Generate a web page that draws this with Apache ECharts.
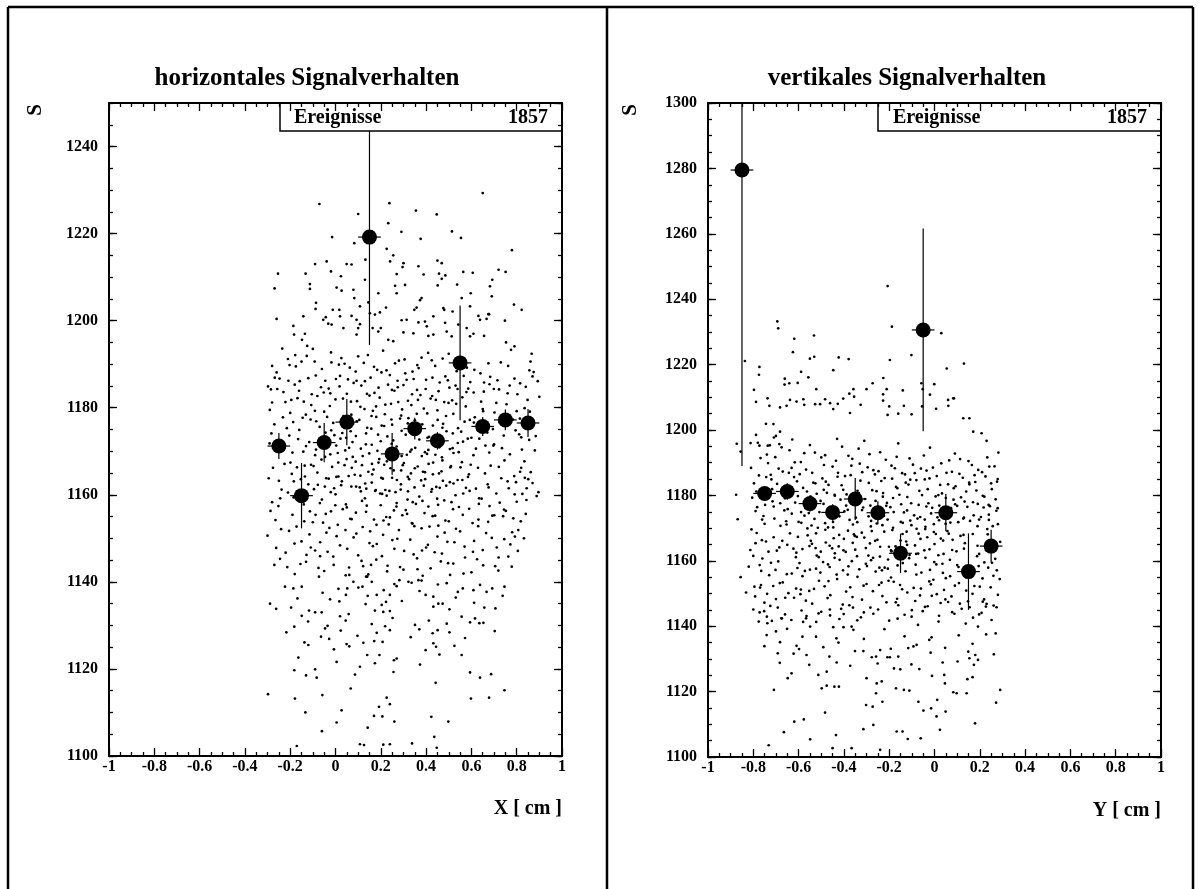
<!DOCTYPE html>
<html>
<head>
<meta charset="utf-8">
<script src="https://cdn.jsdelivr.net/npm/echarts@6/dist/echarts.min.js"></script>
<style>html,body{margin:0;padding:0;background:#fff;}#c{width:1201px;height:889px;}</style>
</head>
<body>
<div id="c"></div>
<script>
// ---------- DATA ----------
const leftTitle = 'horizontales Signalverhalten';
const rightTitle = 'vertikales Signalverhalten';
const leftAxisName = 'X [ cm ]';
const rightAxisName = 'Y [ cm ]';
const yName = 'S';
const statLabel = 'Ereignisse';
const statValue = '1857';
const binHalfWidth = 0.05;

// profile (mean S per bin) with errors
const leftBinX  = [-0.25,-0.15,-0.05,0.05,0.15,0.25,0.35,0.45,0.55,0.65,0.75,0.85];
const leftMean  = [1171.2,1159.8,1172.0,1176.7,1219.2,1169.4,1175.2,1172.4,1190.3,1175.7,1177.2,1176.5];
const leftErr   = [3.0,7.5,4.5,5.3,24.8,4.8,2.5,2.0,13.2,2.2,2.4,3.2];
const rightBinX = [-0.85,-0.75,-0.65,-0.55,-0.45,-0.35,-0.25,-0.15,-0.05,0.05,0.15,0.25];
const rightMean = [1279.5,1180.6,1181.2,1177.5,1174.8,1178.9,1174.7,1162.3,1230.6,1174.7,1156.7,1164.5];
const rightErr  = [90.5,2.0,2.5,2.5,2.5,6.4,3.5,6.0,31.0,5.7,11.7,5.0];

// individual events (scatter)
const leftEventsUpper = [[-0.071,1226.8],[0.238,1227.0],[0.65,1229.3],[0.10,1224.5],[0.233,1222.4],[0.355,1225.3],[0.447,1224.4],[-0.015,1219.2],[0.291,1220.4],[0.376,1218.8],[0.514,1220.5],[0.554,1219.0],[0.779,1216.2],[0.083,1217.8],[0.226,1216.5],[0.255,1215.0],[-0.254,1210.8],[-0.132,1210.8],[-0.09,1213.0],[-0.039,1213.6],[0.049,1213.0],[-0.02,1211.3],[0.024,1210.2],[0.071,1212.9],[0.132,1214.0],[0.241,1213.6],[0.30,1213.2],[0.296,1212.3],[0.27,1210.7],[0.366,1212.5],[0.389,1210.6],[0.45,1213.8],[0.469,1213.2],[0.457,1210.8],[0.485,1210.4],[0.564,1211.2],[0.606,1211.0],[0.692,1209.4],[0.72,1211.7],[0.751,1211.2],[-0.269,1207.4],[-0.113,1208.4],[-0.113,1207.3],[0.005,1207.6],[0.027,1206.9],[0.079,1207.1],[0.13,1209.4],[0.263,1208.0],[0.307,1208.2],[0.27,1206.3],[0.38,1205.2],[0.373,1204.7],[0.451,1208.1],[0.469,1209.6],[0.537,1208.3],[0.557,1205.2],[0.597,1206.3],[0.682,1207.9],[0.69,1205.6],[-0.086,1204.1],[-0.088,1202.7],[-0.012,1202.5],[0.017,1202.5],[0.083,1205.2],[0.108,1203.3],[0.145,1204.2],[0.189,1206.3],[0.223,1203.0],[0.348,1202.5],[0.358,1203.0],[0.476,1202.9],[0.48,1202.5],[0.517,1202.1],[0.594,1203.3],[0.638,1200.2],[0.675,1201.5],[0.788,1203.7],[0.822,1202.5],[-0.26,1200.4],[-0.186,1198.8],[-0.142,1201.0],[-0.135,1197.0],[-0.183,1196.8],[-0.148,1195.6],[-0.054,1200.2],[-0.043,1200.8],[-0.017,1199.1],[0.02,1201.0],[0.035,1198.3],[-0.032,1199.3],[0.071,1201.1],[0.093,1200.2],[0.108,1199.2],[0.10,1198.3],[0.093,1196.8],[0.152,1201.7],[0.174,1201.4],[0.196,1201.9],[0.164,1198.3],[0.189,1197.5],[0.20,1198.3],[0.233,1195.6],[0.255,1195.3],[0.292,1200.1],[0.314,1200.2],[0.30,1197.3],[0.344,1197.1],[0.366,1199.6],[0.395,1199.8],[0.403,1198.7],[0.432,1201.0],[0.41,1196.5],[0.432,1196.8],[0.484,1199.5],[0.491,1197.5],[0.513,1196.4],[0.542,1199.1],[0.579,1198.3],[0.594,1196.4],[0.609,1197.0],[0.631,1201.1],[0.656,1196.5],[0.678,1201.5],[0.667,1200.4],[0.748,1200.0],[0.753,1195.0],[0.79,1194.1],[0.866,1192.4],[0.856,1188.6],[0.87,1187.2],[-0.28,1189.6],[-0.298,1184.9],[-0.257,1184.3],[-0.28,1181.2]];

const leftEventsCore = [[-0.29,1179.5],[-0.27,1176.2],[-0.26,1188.1],[-0.24,1172.4],[-0.23,1183.6],[-0.21,1191.2],[-0.2,1178.8],[-0.19,1169.7],[-0.18,1185.3],[-0.16,1174.9],[-0.15,1190.6],[-0.14,1181.4],[-0.13,1171.2],[-0.12,1186.8],[-0.11,1177.3],[-0.1,1193.5],[-0.09,1169.1],[-0.08,1182.7],[-0.07,1175.6],[-0.06,1188.9],[-0.05,1179.1],[-0.04,1171.8],[-0.03,1184.4],[-0.02,1192.7],[-0.01,1176.5],[0.0,1181.9],[0.01,1169.6],[0.02,1187.3],[0.03,1174.2],[0.04,1190.1],[0.05,1183.2],[0.06,1170.8],[0.07,1178.4],[0.08,1185.7],[0.09,1173.5],[0.1,1191.8],[0.11,1180.2],[0.12,1168.9],[0.13,1186.1],[0.14,1175.4],[0.15,1182.8],[0.16,1171.5],[0.17,1189.4],[0.18,1177.9],[0.19,1184.6],[0.2,1172.3],[0.21,1193.1],[0.22,1180.7],[0.23,1169.4],[0.24,1187.5],[0.25,1176.1],[0.26,1183.9],[0.27,1171.1],[0.28,1190.8],[0.29,1178.2],[0.3,1185.2],[0.31,1173.8],[0.32,1181.6],[0.33,1169.9],[0.34,1188.3],[0.35,1177.1],[0.36,1184.1],[0.37,1172.7],[0.38,1191.5],[0.39,1179.8],[0.4,1186.4],[0.41,1170.3],[0.42,1182.1],[0.43,1175.9],[0.44,1189.6],[0.45,1179.4],[0.46,1185.8],[0.47,1168.6],[0.48,1181.3],[0.49,1174.6],[0.5,1192.4],[0.52,1178.6],[0.53,1185.1],[0.54,1171.9],[0.56,1182.4],[0.57,1176.8],[0.58,1189.2],[0.6,1173.1],[0.61,1183.5],[0.62,1170.6],[0.64,1187.9],[0.65,1179.7],[0.67,1174.3],[0.68,1185.4],[0.7,1171.6],[0.71,1181.1],[0.73,1190.4],[0.74,1176.4],[0.76,1183.3],[0.77,1169.3],[0.79,1186.7],[0.8,1179.2],[0.82,1173.2],[0.84,1184.8],[0.86,1177.6],[0.88,1170.2],[0.9,1182.5],
[-0.285,1184.2],[-0.255,1170.9],[-0.235,1193.6],[-0.215,1175.3],[-0.195,1181.8],[-0.175,1189.5],[-0.165,1172.8],[-0.145,1177.7],[-0.125,1194.2],[-0.105,1183.1],[-0.085,1176.9],[-0.065,1171.4],[-0.045,1186.2],[-0.025,1180.4],[-0.005,1173.7],[0.015,1189.9],[0.035,1178.1],[0.055,1186.5],[0.075,1172.1],[0.095,1181.5],[0.105,1177.2],[0.125,1190.3],[0.135,1174.1],[0.155,1186.9],[0.165,1179.3],[0.185,1170.1],[0.195,1182.3],[0.215,1175.8],[0.225,1188.6],[0.245,1180.9],[0.255,1172.5],[0.275,1184.7],[0.285,1177.5],[0.305,1191.1],[0.315,1169.2],[0.335,1180.6],[0.345,1186.6],[0.365,1174.4],[0.375,1182.9],[0.395,1169.8],[0.405,1178.7],[0.425,1190.9],[0.435,1173.4],[0.455,1183.8],[0.475,1176.3],[0.485,1187.2],[0.505,1170.5],[0.515,1181.7],[0.535,1188.4],[0.555,1174.5],[0.575,1180.3],[0.595,1185.9],[0.615,1177.8],[0.635,1172.9],[0.655,1183.7],[0.675,1190.2],[0.695,1175.1],[0.715,1186.3],[0.735,1170.7],[0.755,1180.8],[0.775,1193.3],[0.795,1174.8],[0.815,1185.6],[0.835,1179.9],[0.855,1172.6],[0.875,1188.2],
[-0.283,1174.1],[-0.247,1186.7],[-0.228,1170.3],[-0.203,1189.8],[-0.187,1176.7],[-0.168,1182.2],[-0.142,1169.9],[-0.127,1191.9],[-0.107,1180.6],[-0.087,1187.4],[-0.072,1172.6],[-0.052,1183.5],[-0.037,1177.9],[-0.018,1190.4],[0.003,1171.3],[0.018,1184.9],[0.033,1182.1],[0.047,1173.1],[0.063,1189.2],[0.078,1176.3],[0.093,1186.2],[0.112,1170.6],[0.128,1179.7],[0.143,1192.1],[0.158,1175.2],[0.172,1183.4],[0.188,1173.8],[0.203,1188.1],[0.218,1178.5],[0.232,1185.3],[0.248,1171.7],[0.263,1190.2],[0.277,1181.3],[0.292,1174.7],[0.308,1187.9],[0.322,1177.6],[0.338,1183.1],[0.352,1170.8],[0.367,1189.1],[0.383,1176.2],[0.398,1184.3],[0.413,1173.3],[0.428,1186.9],[0.443,1181.8],[0.458,1170.9],[0.473,1191.3],[0.488,1178.1],[0.503,1184.6],[0.518,1174.1],[0.533,1180.9],[0.548,1189.7],[0.563,1172.2],[0.578,1183.6],[0.593,1177.2],[0.613,1188.7],[0.628,1174.8],[0.643,1181.4],[0.662,1171.3],[0.683,1187.1],[0.702,1178.9],[0.722,1184.2],[0.743,1173.6],[0.762,1189.6],[0.783,1177.3],[0.803,1183.1],[0.823,1170.4],[0.848,1181.8],[0.872,1176.1],[0.893,1186.1],
[-0.3,1150.6],[-0.28,1158.3],[-0.27,1143.9],[-0.25,1163.2],[-0.24,1152.1],[-0.22,1146.7],[-0.21,1160.5],[-0.19,1155.4],[-0.18,1141.8],[-0.17,1166.3],[-0.15,1149.3],[-0.14,1157.8],[-0.13,1144.6],[-0.12,1162.4],[-0.1,1153.7],[-0.09,1147.2],[-0.08,1165.1],[-0.06,1158.9],[-0.05,1142.5],[-0.04,1151.3],[-0.03,1163.7],[-0.02,1156.2],[-0.01,1145.8],[0.0,1160.1],[0.01,1153.1],[0.02,1148.4],[0.04,1166.8],[0.05,1157.1],[0.06,1143.3],[0.07,1161.9],[0.08,1150.2],[0.09,1155.9],[0.1,1146.1],[0.11,1164.4],[0.12,1152.6],[0.13,1159.2],[0.14,1141.2],[0.15,1148.9],[0.16,1162.8],[0.17,1154.3],[0.18,1145.1],[0.19,1167.4],[0.2,1157.6],[0.21,1150.8],[0.22,1161.1],[0.23,1143.7],[0.24,1154.8],[0.25,1163.9],[0.26,1147.6],[0.27,1158.1],[0.28,1151.9],[0.29,1165.6],[0.3,1142.8],[0.31,1156.5],[0.32,1160.8],[0.33,1149.7],[0.34,1153.4],[0.35,1166.1],[0.36,1145.4],[0.37,1159.6],[0.38,1152.3],[0.39,1162.1],[0.4,1147.9],[0.41,1157.3],[0.42,1143.1],[0.43,1164.7],[0.44,1155.2],[0.45,1150.4],[0.46,1161.6],[0.47,1146.5],[0.48,1158.7],[0.5,1153.9],[0.51,1166.6],[0.52,1144.2],[0.53,1159.9],[0.55,1151.6],[0.56,1163.4],[0.57,1148.1],[0.59,1156.8],[0.6,1142.2],[0.62,1161.4],[0.63,1152.8],[0.65,1147.3],[0.66,1164.9],[0.68,1157.4],[0.69,1150.1],[0.71,1160.3],[0.72,1145.6],[0.74,1155.1],[0.76,1163.1],[0.78,1151.4],[0.8,1158.4],[0.82,1166.2],[0.84,1155.6],[0.87,1162.7],
[-0.295,1163.8],[-0.265,1154.2],[-0.245,1145.3],[-0.225,1167.1],[-0.205,1151.7],[-0.185,1159.4],[-0.155,1144.1],[-0.135,1164.2],[-0.115,1150.9],[-0.095,1161.3],[-0.075,1143.2],[-0.055,1153.6],[-0.035,1146.9],[-0.015,1166.4],[0.005,1150.5],[0.025,1162.2],[0.045,1141.5],[0.065,1154.5],[0.085,1164.6],[0.115,1144.8],[0.135,1156.1],[0.145,1165.3],[0.165,1148.2],[0.175,1160.9],[0.205,1145.9],[0.215,1166.9],[0.235,1153.2],[0.265,1160.6],[0.285,1143.4],[0.295,1155.3],[0.325,1163.6],[0.345,1146.3],[0.355,1157.9],[0.385,1141.4],[0.395,1165.2],[0.415,1152.7],[0.445,1161.8],[0.465,1144.7],[0.485,1154.1],[0.505,1162.9],[0.525,1149.1],[0.545,1157.2],[0.565,1141.9],[0.585,1164.1],[0.605,1153.5],[0.625,1145.2],[0.645,1159.1],[0.665,1151.2],[0.685,1166.7],[0.705,1143.6],[0.725,1158.2],[0.745,1149.8],[0.765,1161.5],[0.785,1154.6],[0.805,1147.1],[0.825,1160.2],
[-0.287,1156.3],[-0.262,1147.8],[-0.238,1161.2],[-0.213,1143.4],[-0.193,1164.8],[-0.172,1152.7],[-0.147,1160.1],[-0.128,1146.2],[-0.108,1166.9],[-0.088,1155.4],[-0.068,1149.1],[-0.047,1161.9],[-0.027,1152.4],[-0.008,1143.9],[0.013,1164.2],[0.032,1156.7],[0.052,1147.6],[0.072,1166.2],[0.092,1151.1],[0.107,1161.7],[0.122,1143.6],[0.138,1157.5],[0.153,1151.6],[0.168,1165.8],[0.182,1148.7],[0.197,1160.3],[0.212,1154.1],[0.228,1142.4],[0.243,1166.1],[0.258,1156.4],[0.273,1149.9],[0.288,1161.2],[0.303,1147.1],[0.318,1158.9],[0.333,1164.9],[0.348,1152.8],[0.362,1142.9],[0.378,1163.3],[0.393,1155.8],[0.408,1148.5],[0.423,1160.7],[0.438,1146.8],[0.453,1157.7],[0.468,1165.4],[0.482,1151.3],[0.497,1144.3],[0.512,1158.3],[0.532,1152.2],[0.552,1166.3],[0.572,1145.6],[0.592,1160.9],[0.612,1149.4],[0.633,1157.9],[0.652,1143.8],[0.672,1162.4],[0.692,1155.2],[0.712,1147.9],[0.732,1163.8],[0.752,1156.3],[0.772,1148.6],[0.797,1162.9],[0.818,1153.9],[0.843,1158.8],[0.862,1165.2],
[-0.097,1166.6],[-0.078,1162.3],[-0.062,1168.1],[-0.041,1163.8],[-0.023,1169.3],[-0.006,1161.5],[0.012,1167.4],[0.028,1163.1],[0.043,1170.2],[0.058,1164.3],[0.076,1168.7],[0.091,1161.9],[0.117,1166.8],[0.131,1162.6],[0.149,1169.5],[0.162,1164.7],[0.178,1161.1],[0.193,1168.2],[0.209,1163.7],[0.227,1167.7],[0.238,1160.9],[0.257,1165.6],[0.272,1169.8],[0.289,1162.4],[0.302,1167.3],[0.319,1164.1],[0.336,1170.4],[0.349,1161.7],[0.363,1166.5],[0.381,1168.9],[0.396,1163.6],[0.411,1167.1],[0.426,1161.3],[0.441,1169.2],[0.457,1164.9],[0.472,1167.9],[0.489,1162.1],[0.507,1166.3],[0.521,1169.6],[0.539,1163.4],[0.558,1167.5],[0.576,1161.6],[0.597,1166.9],
[-0.276,1166.2],[-0.252,1157.4],[-0.232,1177.8],[-0.208,1186.2],[-0.184,1163.1],[-0.161,1183.9],[-0.138,1153.9],[-0.116,1172.1],[-0.092,1190.6],[-0.069,1158.1],[-0.044,1174.3],[-0.021,1160.6],[0.002,1186.6],[0.024,1176.8],[0.046,1157.8],[0.068,1181.4],[0.089,1167.6],[0.114,1185.1],[0.136,1161.4],[0.159,1178.1],[0.181,1153.1],[0.204,1175.9],[0.226,1159.8],[0.249,1184.1],[0.271,1163.4],[0.294,1179.6],[0.316,1155.6],[0.339,1174.9],[0.361,1189.8],[0.384,1158.6],[0.406,1173.1],[0.429,1155.1],[0.451,1177.2],[0.474,1163.2],[0.496,1186.3],[0.519,1156.7],[0.541,1175.3],[0.564,1160.3],[0.586,1184.4],[0.609,1169.1],[0.631,1154.3],[0.654,1176.1],[0.676,1161.7],[0.699,1184.3],[0.721,1166.4],[0.744,1156.6],[0.766,1178.2],[0.789,1164.3],[0.811,1173.9],[0.834,1167.7],[0.858,1179.1],
[-0.262,1133.8],[-0.217,1128.4],[-0.168,1136.2],[-0.121,1130.9],[-0.073,1141.2],[-0.028,1126.9],[0.013,1138.4],[0.058,1132.6],[0.097,1127.6],[0.133,1134.9],[0.171,1126.4],[0.213,1138.1],[0.252,1131.7],[0.293,1135.6],[0.332,1127.3],[0.371,1137.9],[0.412,1131.1],[0.452,1139.4],[0.491,1130.4],[0.531,1136.4],[0.572,1127.1],[0.612,1135.2],[0.657,1134.1],[0.703,1128.7],[0.738,1136.8],
[-0.291,1171.8],[-0.268,1186.9],[-0.244,1159.2],[-0.221,1181.3],[-0.199,1167.4],[-0.178,1192.1],[-0.153,1163.6],[-0.131,1178.4],[-0.109,1147.9],[-0.086,1170.4],[-0.064,1184.7],[-0.043,1155.6],[-0.019,1174.8],[0.004,1164.1],[0.026,1191.4],[0.049,1168.2],[0.071,1154.4],[0.094,1176.9],[0.117,1158.6],[0.139,1183.2],[0.161,1167.1],[0.184,1188.7],[0.206,1160.2],[0.229,1173.4],[0.251,1149.6],[0.274,1186.2],[0.297,1166.8],[0.319,1176.4],[0.341,1158.3],[0.364,1181.8],[0.386,1165.3],[0.409,1192.6],[0.431,1167.4],[0.454,1152.9],[0.476,1172.2],[0.499,1181.1],[0.521,1162.6],[0.544,1169.8],[0.566,1187.3],[0.589,1164.7],[0.611,1176.6],[0.634,1159.2],[0.656,1185.8],[0.679,1169.7],[0.701,1155.3],[0.724,1176.7],[0.746,1167.9],[0.769,1185.1],[0.791,1160.1],[0.814,1177.5],[0.836,1163.9],[0.861,1190.6],[0.884,1173.5],
[-0.204,1173.6],[-0.181,1148.8],[-0.158,1186.1],[-0.136,1166.7],[-0.113,1156.2],[-0.091,1179.3],[-0.068,1145.9],[-0.046,1168.7],[-0.023,1183.3],[-0.001,1157.6],[0.022,1172.9],[0.044,1151.9],[0.067,1174.6],[0.089,1188.3],[0.112,1160.8],[0.134,1171.6],[0.157,1143.9],[0.179,1180.3],[0.202,1163.9],[0.224,1154.9],[0.247,1177.3],[0.269,1157.3],[0.292,1168.9],[0.314,1186.4],[0.337,1153.5],[0.359,1178.6],[0.382,1147.2],[0.404,1169.4],[0.427,1182.7],[0.449,1159.1],[0.472,1175.4],[0.494,1149.2],[0.517,1170.7],[0.539,1184.3],[0.562,1155.4],[0.584,1172.9],[0.607,1146.9],[0.629,1166.2],[0.652,1179.2],[0.674,1153.8],[0.697,1171.3]];

const leftEventsLower = [[-0.298,1114.2],[-0.179,1113.2],[-0.058,1114.0],[-0.133,1110.0],[-0.06,1105.7],[-0.171,1102.3],[0.005,1107.7],[0.027,1110.5],[0.067,1115.5],[0.108,1102.7],[0.126,1102.5],[0.142,1106.5],[0.17,1109.2],[0.192,1111.3],[0.207,1109.1],[0.226,1113.4],[0.24,1111.9],[0.26,1107.9],[0.211,1102.6],[0.24,1102.7],[0.338,1102.9],[0.423,1109.0],[0.436,1104.4],[0.447,1101.9],[0.442,1116.8],[0.498,1107.9],[0.598,1113.2],[0.678,1113.4],[0.746,1115.1],[0.638,1118.0],[0.594,1119.2],[0.687,1118.8],[0.256,1119.3],[0.258,1122.0],[0.373,1121.0],[0.108,1120.5],[0.086,1118.7],[0.005,1121.6],[-0.09,1119.9],[-0.083,1118.0],[-0.182,1119.7],[-0.13,1118.5],[-0.164,1122.6],[-0.007,1124.5],[0.049,1125.7],[0.061,1125.2],[0.123,1126.0],[0.14,1123.2],[0.174,1121.3],[0.194,1123.2],[0.208,1126.2],[0.27,1122.4],[0.398,1124.3],[0.432,1125.9],[0.444,1125.1],[0.459,1123.3],[0.525,1125.3],[0.557,1123.2],[-0.137,1126.1],[-0.12,1125.5],[-0.064,1127.4],[-0.035,1129.9],[-0.046,1129.3],[0.023,1128.8],[0.045,1131.1],[0.16,1130.3],[0.182,1128.3],[0.219,1129.8],[0.24,1128.9],[0.351,1130.1],[0.37,1129.1],[0.429,1128.2],[0.451,1128.9],[0.503,1128.4],[0.594,1130.7],[0.616,1131.6],[0.653,1130.6],[-0.182,1129.7],[-0.149,1132.2],[-0.117,1133.4],[-0.09,1133.0],[-0.061,1133.0],[0.02,1132.1],[0.174,1133.4],[0.211,1133.1],[0.24,1133.3],[0.454,1135.0],[0.473,1135.0],[0.432,1134.3],[0.503,1133.7],[0.557,1132.0],[0.635,1130.5],[0.706,1133.9],[-0.289,1135.0],[-0.196,1134.1],[-0.186,1138.5],[-0.223,1138.9],[-0.149,1138.9],[-0.057,1137.5],[-0.024,1136.0],[0.017,1135.5],[0.046,1137.0],[0.052,1138.5],[0.061,1141.6],[0.079,1140.0],[0.101,1138.7],[0.119,1138.9],[0.135,1141.2],[0.145,1141.7],[0.16,1140.0],[0.142,1136.8],[0.182,1137.0],[0.204,1134.7],[0.223,1135.4],[0.24,1137.0],[0.26,1139.5],[0.27,1139.0],[0.282,1140.4],[0.322,1140.0],[0.336,1139.8],[0.366,1140.4],[0.38,1140.3],[0.398,1137.0],[0.432,1136.6],[0.491,1139.7],[0.506,1141.6],[0.54,1137.7],[0.562,1138.5],[0.609,1138.1],[0.638,1139.3],[0.667,1137.7],[0.692,1138.5],[0.746,1138.9],[0.778,1143.5],[0.719,1142.6],[0.763,1145.8],[0.792,1150.4],[0.832,1150.0],[0.807,1151.9],[0.888,1159.7],[0.896,1160.6],[0.851,1163.6],[0.844,1161.5],[0.815,1165.3]];

const rightEventsUpper = [[-0.694,1233.2],[-0.69,1231.1],[-0.188,1231.6],[-0.207,1244.0],[-0.619,1227.9],[-0.532,1228.9],[0.03,1229.6],[-0.625,1223.8],[-0.837,1221.1],[-0.55,1221.8],[-0.531,1222.4],[-0.423,1222.2],[-0.379,1221.7],[-0.197,1221.4],[-0.102,1222.9],[0.13,1220.3],[0.054,1218.8],[-0.447,1218.3],[-0.773,1219.3],[-0.775,1216.9],[-0.589,1217.8],[-0.557,1216.1],[-0.661,1215.7],[-0.662,1213.9],[-0.641,1214.3],[-0.604,1214.4],[-0.797,1212.3],[-0.522,1212.5],[-0.358,1212.5],[-0.376,1211.1],[-0.355,1210.2],[-0.30,1212.5],[-0.273,1214.3],[-0.226,1215.9],[-0.211,1212.5],[-0.227,1210.9],[-0.227,1209.0],[-0.14,1212.1],[-0.058,1214.3],[-0.052,1212.5],[-0.001,1214.0],[0.083,1209.7],[0.06,1209.2],[-0.788,1208.6],[-0.737,1209.7],[-0.729,1207.4],[-0.682,1206.9],[-0.638,1209.2],[-0.653,1207.4],[-0.609,1208.7],[-0.579,1209.4],[-0.575,1207.7],[-0.527,1207.9],[-0.505,1207.9],[-0.483,1209.4],[-0.461,1208.2],[-0.447,1206.4],[-0.427,1208.0],[-0.403,1209.6],[-0.373,1205.2],[-0.326,1207.7],[-0.207,1204.6],[-0.20,1207.2],[-0.16,1205.0],[-0.135,1207.4],[-0.101,1204.8],[-0.055,1207.2],[-0.02,1210.8],[0.007,1206.5],[0.061,1207.4],[0.086,1209.7],[0.127,1203.6],[0.154,1203.6],[0.171,1199.5],[0.208,1199.0],[0.23,1196.7],[0.282,1193.1],[0.242,1188.8],[0.279,1185.0],[0.279,1176.1],[0.24,1172.5],[-0.873,1195.8],[-0.856,1193.4],[-0.876,1180.2],[-0.869,1172.7],[-0.812,1196.0],[-0.744,1201.9],[-0.788,1198.5],[-0.773,1195.2],[-0.736,1195.2],[-0.709,1197.7],[-0.711,1201.8],[-0.682,1199.5],[-0.685,1195.7]];

const rightEventsCore = [[-0.81,1188.4],[-0.79,1175.2],[-0.78,1196.1],[-0.76,1181.7],[-0.75,1171.3],[-0.74,1192.5],[-0.72,1184.9],[-0.71,1176.6],[-0.7,1198.2],[-0.68,1170.7],[-0.67,1187.3],[-0.66,1179.1],[-0.64,1193.8],[-0.63,1174.4],[-0.62,1185.6],[-0.6,1171.9],[-0.59,1190.2],[-0.58,1182.3],[-0.57,1176.1],[-0.55,1195.4],[-0.54,1186.9],[-0.53,1172.8],[-0.52,1180.5],[-0.5,1191.6],[-0.49,1177.4],[-0.48,1184.2],[-0.47,1170.2],[-0.45,1188.8],[-0.44,1179.9],[-0.43,1197.3],[-0.42,1173.6],[-0.41,1183.1],[-0.39,1176.9],[-0.38,1192.1],[-0.37,1186.2],[-0.36,1171.1],[-0.34,1181.4],[-0.33,1189.7],[-0.32,1175.5],[-0.31,1196.7],[-0.29,1183.8],[-0.28,1172.2],[-0.27,1187.7],[-0.26,1178.3],[-0.24,1193.2],[-0.23,1170.9],[-0.22,1185.3],[-0.21,1177.7],[-0.19,1189.1],[-0.18,1174.9],[-0.17,1182.6],[-0.16,1195.9],[-0.14,1171.6],[-0.13,1186.4],[-0.12,1179.5],[-0.11,1191.3],[-0.09,1173.9],[-0.08,1184.7],[-0.07,1177.1],[-0.06,1188.2],[-0.04,1170.4],[-0.03,1181.9],[-0.02,1194.6],[-0.01,1176.2],[0.01,1185.9],[0.02,1172.4],[0.03,1189.8],[0.05,1179.2],[0.06,1183.4],[0.07,1171.7],[0.09,1192.8],[0.1,1176.8],[0.11,1186.6],[0.13,1173.2],[0.14,1181.2],[0.15,1190.5],[0.17,1177.9],[0.18,1184.1],[0.19,1170.6],[0.21,1187.1],[0.22,1179.6],[0.24,1174.1],[0.25,1183.7],[0.27,1178.8],[0.28,1171.2],
[-0.805,1179.3],[-0.775,1186.1],[-0.755,1173.7],[-0.735,1189.9],[-0.715,1178.2],[-0.695,1183.5],[-0.675,1194.7],[-0.655,1172.1],[-0.635,1181.1],[-0.615,1177.8],[-0.595,1186.5],[-0.575,1192.9],[-0.555,1174.6],[-0.535,1183.9],[-0.515,1170.1],[-0.495,1185.2],[-0.475,1180.8],[-0.455,1174.2],[-0.435,1190.6],[-0.415,1178.7],[-0.395,1185.9],[-0.375,1172.5],[-0.355,1179.4],[-0.335,1194.3],[-0.315,1176.3],[-0.295,1188.6],[-0.275,1181.6],[-0.255,1171.4],[-0.235,1184.4],[-0.215,1190.9],[-0.195,1176.4],[-0.175,1188.3],[-0.155,1180.2],[-0.135,1174.8],[-0.115,1183.3],[-0.095,1189.4],[-0.075,1172.9],[-0.055,1180.1],[-0.035,1187.6],[-0.015,1174.5],[0.005,1179.7],[0.025,1183.2],[0.045,1175.9],[0.065,1190.7],[0.085,1182.2],[0.105,1171.8],[0.125,1185.4],[0.145,1176.5],[0.165,1189.3],[0.185,1181.5],[0.205,1173.4],[0.225,1185.8],[0.245,1176.7],[0.265,1188.9],
[-0.797,1183.7],[-0.768,1191.4],[-0.748,1177.1],[-0.727,1195.3],[-0.707,1172.9],[-0.688,1188.2],[-0.668,1182.5],[-0.648,1175.8],[-0.628,1197.1],[-0.607,1184.3],[-0.588,1171.6],[-0.567,1187.9],[-0.547,1179.6],[-0.528,1193.1],[-0.508,1174.9],[-0.488,1189.3],[-0.468,1183.2],[-0.448,1171.9],[-0.428,1185.7],[-0.408,1194.9],[-0.388,1180.3],[-0.367,1189.1],[-0.347,1173.2],[-0.327,1184.5],[-0.307,1178.9],[-0.287,1192.6],[-0.267,1175.1],[-0.247,1187.4],[-0.227,1180.7],[-0.207,1172.6],[-0.187,1185.1],[-0.167,1191.8],[-0.147,1177.3],[-0.127,1183.9],[-0.107,1172.3],[-0.087,1186.8],[-0.067,1181.4],[-0.047,1192.2],[-0.027,1177.6],[-0.007,1188.5],[0.013,1173.3],[0.033,1180.6],[0.053,1186.9],[0.073,1176.1],[0.093,1182.8],[0.113,1191.1],[0.133,1178.1],[0.153,1183.9],[0.173,1173.9],[0.193,1187.8],[0.213,1179.9],[0.233,1191.6],[0.253,1181.9],[0.273,1175.3],
[-0.82,1158.2],[-0.8,1145.1],[-0.79,1165.4],[-0.77,1151.8],[-0.76,1160.7],[-0.74,1142.9],[-0.73,1155.6],[-0.71,1167.2],[-0.7,1148.3],[-0.69,1159.8],[-0.67,1153.4],[-0.66,1143.6],[-0.65,1164.9],[-0.63,1156.1],[-0.62,1148.7],[-0.61,1162.5],[-0.59,1151.2],[-0.58,1141.3],[-0.56,1167.8],[-0.55,1157.3],[-0.54,1146.9],[-0.52,1161.6],[-0.51,1153.9],[-0.5,1144.4],[-0.48,1165.6],[-0.47,1158.9],[-0.46,1149.5],[-0.44,1162.3],[-0.43,1154.4],[-0.42,1142.2],[-0.4,1166.7],[-0.39,1150.6],[-0.38,1158.3],[-0.36,1145.7],[-0.35,1163.4],[-0.34,1155.1],[-0.32,1148.1],[-0.31,1167.1],[-0.3,1152.9],[-0.28,1160.2],[-0.27,1143.8],[-0.26,1156.7],[-0.24,1164.3],[-0.23,1149.2],[-0.22,1157.9],[-0.2,1141.7],[-0.19,1162.9],[-0.18,1153.6],[-0.16,1146.4],[-0.15,1166.2],[-0.14,1159.3],[-0.12,1150.3],[-0.11,1161.8],[-0.1,1144.9],[-0.08,1155.8],[-0.07,1168.3],[-0.06,1151.5],[-0.04,1160.9],[-0.03,1146.1],[-0.02,1157.2],[0.0,1165.1],[0.01,1149.8],[0.02,1143.2],[0.04,1162.1],[0.05,1154.7],[0.06,1147.4],[0.08,1166.4],[0.09,1152.4],[0.1,1158.7],[0.12,1145.3],[0.13,1163.7],[0.14,1150.9],[0.16,1157.6],[0.17,1142.6],[0.19,1164.6],[0.2,1152.1],[0.22,1159.5],[0.23,1146.8],[0.25,1162.7],[0.26,1155.4],[0.28,1149.6],[0.29,1165.8],
[-0.785,1168.5],[-0.765,1156.9],[-0.725,1146.2],[-0.685,1164.1],[-0.645,1150.1],[-0.605,1157.8],[-0.565,1143.1],[-0.525,1163.9],[-0.485,1152.2],[-0.445,1166.9],[-0.405,1146.6],[-0.365,1159.9],[-0.325,1142.7],[-0.285,1165.3],[-0.245,1152.6],[-0.205,1160.4],[-0.165,1148.4],[-0.125,1165.9],[-0.085,1147.7],[-0.045,1163.2],[-0.005,1154.2],[0.035,1159.1],[0.075,1149.1],[0.115,1167.6],[0.155,1145.8],[0.195,1158.4],[0.235,1168.1],[0.275,1157.1],
[-0.813,1163.3],[-0.792,1149.1],[-0.772,1158.7],[-0.752,1144.6],[-0.733,1162.8],[-0.712,1152.3],[-0.692,1145.7],[-0.672,1166.1],[-0.652,1155.9],[-0.632,1141.9],[-0.612,1161.1],[-0.592,1149.8],[-0.572,1156.9],[-0.552,1164.5],[-0.532,1151.4],[-0.512,1143.9],[-0.492,1159.6],[-0.472,1148.6],[-0.452,1163.8],[-0.432,1155.8],[-0.412,1145.3],[-0.392,1162.7],[-0.372,1151.9],[-0.352,1167.6],[-0.332,1157.4],[-0.312,1144.2],[-0.292,1161.6],[-0.272,1150.7],[-0.252,1166.4],[-0.232,1157.1],[-0.212,1147.3],[-0.192,1154.9],[-0.172,1164.4],[-0.152,1152.6],[-0.132,1143.5],[-0.112,1160.8],[-0.092,1151.7],[-0.072,1162.2],[-0.052,1144.6],[-0.032,1167.2],[-0.012,1149.3],[0.008,1158.9],[0.028,1166.8],[0.048,1148.2],[0.068,1160.3],[0.088,1143.8],[0.108,1153.2],[0.128,1167.9],[0.148,1155.7],[0.168,1149.9],[0.188,1161.4],[0.208,1144.1],[0.228,1163.2],[0.248,1151.9],[0.268,1160.6],[0.288,1154.4],
[-0.603,1167.3],[-0.583,1163.6],[-0.561,1169.9],[-0.541,1165.2],[-0.523,1168.4],[-0.502,1162.8],[-0.482,1169.5],[-0.463,1164.6],[-0.441,1160.9],[-0.421,1167.9],[-0.402,1163.2],[-0.382,1169.2],[-0.361,1165.5],[-0.342,1161.4],[-0.321,1168.6],[-0.303,1163.9],[-0.281,1170.5],[-0.262,1166.1],[-0.241,1161.3],[-0.222,1168.9],[-0.201,1164.3],[-0.183,1170.1],[-0.162,1162.6],[-0.141,1168.2],[-0.121,1164.9],[-0.102,1170.9],[-0.081,1162.1],[-0.062,1166.7],[-0.041,1169.7],[-0.022,1163.5],[-0.003,1168.8],[0.017,1161.7],[0.038,1166.2],[0.057,1169.1],[0.078,1163.3],
[-0.783,1176.4],[-0.762,1166.3],[-0.743,1185.6],[-0.722,1159.4],[-0.703,1191.7],[-0.683,1153.2],[-0.663,1175.4],[-0.643,1186.9],[-0.623,1163.7],[-0.603,1179.8],[-0.583,1155.3],[-0.563,1181.2],[-0.543,1170.8],[-0.523,1157.6],[-0.503,1178.3],[-0.483,1192.3],[-0.463,1158.1],[-0.443,1176.2],[-0.423,1164.4],[-0.403,1181.7],[-0.383,1155.8],[-0.363,1191.2],[-0.343,1167.3],[-0.323,1178.4],[-0.303,1159.1],[-0.283,1176.9],[-0.263,1186.4],[-0.243,1157.9],[-0.223,1173.8],[-0.203,1153.9],[-0.183,1179.2],[-0.163,1158.6],[-0.143,1186.8],[-0.123,1168.9],[-0.103,1177.6],[-0.083,1158.8],[-0.063,1173.4],[-0.043,1184.9],[-0.023,1153.7],[-0.003,1171.2],[0.017,1180.1],[0.037,1156.3],[0.057,1174.6],[0.077,1187.2],[0.097,1162.9],[0.117,1179.4],[0.137,1157.3],[0.157,1172.2],[0.177,1186.2],[0.197,1162.1],[0.217,1176.3],[0.237,1157.9],[0.257,1170.6],
[-0.772,1144.2],[-0.751,1133.9],[-0.718,1141.6],[-0.683,1128.8],[-0.651,1139.2],[-0.622,1131.6],[-0.587,1144.8],[-0.553,1128.2],[-0.522,1141.3],[-0.491,1133.6],[-0.462,1145.1],[-0.433,1136.3],[-0.401,1143.7],[-0.372,1127.9],[-0.341,1141.8],[-0.312,1136.1],[-0.283,1145.7],[-0.251,1128.6],[-0.221,1139.1],[-0.193,1133.1],[-0.163,1142.3],[-0.132,1136.9],[-0.102,1128.3],[-0.073,1140.4],[-0.042,1145.9],[-0.013,1136.6],[0.018,1141.4],[0.047,1133.4],[0.078,1144.3],[0.107,1137.2],[0.138,1140.8],[0.168,1134.6],[0.197,1143.6],[0.228,1137.5],[0.262,1131.4],
[-0.808,1169.6],[-0.787,1181.2],[-0.766,1152.6],[-0.744,1165.9],[-0.723,1186.3],[-0.702,1157.2],[-0.681,1177.6],[-0.659,1148.7],[-0.638,1168.4],[-0.617,1190.1],[-0.596,1159.3],[-0.574,1173.8],[-0.553,1150.8],[-0.532,1176.4],[-0.511,1161.1],[-0.489,1181.7],[-0.468,1153.8],[-0.447,1170.2],[-0.426,1186.9],[-0.404,1157.1],[-0.383,1175.6],[-0.362,1148.9],[-0.341,1171.8],[-0.319,1187.1],[-0.298,1158.4],[-0.277,1169.1],[-0.256,1181.3],[-0.234,1153.3],[-0.213,1176.8],[-0.192,1163.2],[-0.171,1147.3],[-0.149,1171.9],[-0.128,1156.8],[-0.107,1184.8],[-0.086,1164.7],[-0.064,1149.4],[-0.043,1172.6],[-0.022,1185.2],[-0.001,1159.6],[0.021,1176.9],[0.042,1151.1],[0.063,1168.3],[0.084,1178.7],[0.106,1158.1],[0.127,1172.9],[0.148,1147.6],[0.169,1168.2],[0.191,1177.4],[0.212,1154.6],[0.233,1169.7],[0.254,1159.4],[0.276,1184.2],
[-0.761,1172.6],[-0.739,1149.9],[-0.717,1181.9],[-0.696,1163.1],[-0.674,1142.4],[-0.653,1171.1],[-0.631,1188.4],[-0.611,1151.5],[-0.589,1174.9],[-0.568,1147.8],[-0.546,1166.1],[-0.526,1183.7],[-0.504,1156.4],[-0.483,1171.5],[-0.461,1143.3],[-0.441,1180.2],[-0.419,1160.3],[-0.398,1175.1],[-0.376,1146.4],[-0.356,1168.1],[-0.334,1180.7],[-0.313,1152.4],[-0.291,1173.6],[-0.271,1160.9],[-0.249,1145.1],[-0.228,1179.6],[-0.206,1157.6],[-0.186,1169.4],[-0.164,1182.2],[-0.143,1151.3],[-0.121,1175.4],[-0.101,1142.9],[-0.079,1169.8],[-0.058,1156.4],[-0.036,1176.6],[-0.016,1152.8],[0.006,1168.2],[0.027,1147.1],[0.049,1171.3],[0.069,1155.3],[0.091,1177.3],[0.112,1146.9],[0.134,1165.4],[0.154,1183.4],[0.176,1152.3],[0.197,1172.6],[0.219,1148.2],[0.239,1177.1],[0.261,1146.3]];

const rightEventsLower = [[-0.856,1155.0],[-0.832,1150.3],[-0.8,1161.5],[-0.795,1152.1],[-0.776,1141.4],[-0.741,1137.3],[-0.738,1140.9],[-0.751,1147.2],[-0.709,1120.5],[-0.732,1103.6],[-0.692,1131.7],[-0.682,1135.1],[-0.70,1138.4],[-0.676,1142.4],[-0.648,1124.1],[-0.631,1125.6],[-0.665,1107.6],[-0.619,1110.8],[-0.609,1134.0],[-0.598,1133.0],[-0.565,1131.2],[-0.577,1111.5],[-0.583,1136.8],[-0.567,1142.4],[-0.549,1139.9],[-0.549,1105.4],[-0.523,1136.8],[-0.513,1125.1],[-0.498,1121.0],[-0.483,1113.6],[-0.476,1126.1],[-0.476,1121.8],[-0.464,1130.7],[-0.45,1102.7],[-0.442,1121.5],[-0.432,1128.9],[-0.435,1106.7],[-0.422,1121.5],[-0.447,1139.7],[-0.424,1135.0],[-0.402,1139.7],[-0.366,1139.9],[-0.366,1102.7],[-0.358,1138.9],[-0.351,1132.4],[-0.314,1132.4],[-0.314,1108.5],[-0.302,1115.9],[-0.30,1124.1],[-0.273,1115.4],[-0.27,1109.8],[-0.258,1119.5],[-0.255,1122.5],[-0.233,1123.1],[-0.23,1116.9],[-0.277,1130.5],[-0.258,1130.7],[-0.24,1102.2],[-0.24,1132.7],[-0.208,1130.5],[-0.197,1130.5],[-0.179,1127.1],[-0.17,1121.0],[-0.167,1107.8],[-0.16,1130.7],[-0.151,1126.8],[-0.141,1107.8],[-0.135,1120.5],[-0.116,1133.3],[-0.111,1120.3],[-0.118,1105.5],[-0.093,1133.8],[-0.079,1134.3],[-0.071,1116.9],[-0.067,1126.9],[-0.061,1105.7],[-0.049,1114.2],[-0.023,1135.8],[-0.017,1131.9],[-0.011,1124.8],[-0.015,1114.9],[0.012,1117.5],[0.009,1112.4],[0.024,1108.3],[0.036,1128.9],[0.043,1125.1],[0.046,1122.5],[0.049,1113.9],[0.083,1119.8],[0.098,1119.5],[0.102,1129.2],[0.142,1119.5],[0.145,1123.8],[0.149,1132.2],[0.154,1130.2],[0.168,1124.4],[0.174,1128.2],[0.179,1110.3],[0.18,1131.2],[0.192,1129.7],[0.192,1139.9],[0.213,1147.5],[0.227,1146.0],[0.252,1141.9],[0.27,1137.8],[0.272,1116.6],[0.274,1145.8],[0.29,1120.5]];

const leftEvents = leftEventsUpper.concat(leftEventsCore, leftEventsLower);
const rightEvents = rightEventsUpper.concat(rightEventsCore, rightEventsLower);

// axis ranges / tick steps
const xRange = [-1, 1], xMajor = 0.2;
const leftYRange = [1100, 1250], rightYRange = [1100, 1300], yMajor = 20, yMinor = 5;

// ---------- CHART ----------
const FONT = '"Liberation Serif", "Times New Roman", serif';
const chart = echarts.init(document.getElementById('c'), null, {renderer: 'canvas'});

const grids = [
  {left: 109, top: 103, width: 453, height: 653},
  {left: 708, top: 103, width: 453, height: 654}
];

function xAxesFor(gi) {
  const base = {
    gridIndex: gi, type: 'value', min: xRange[0], max: xRange[1], interval: xMajor, z: 20,
    axisLine: {show: true, onZero: false, lineStyle: {color: '#000', width: 2}},
    axisTick: {show: true, inside: true, length: 8, lineStyle: {color: '#000', width: 1.3}},
    minorTick: {show: true, splitNumber: 4, length: 4, lineStyle: {color: '#000', width: 1.3}},
    splitLine: {show: false}
  };
  return [
    Object.assign({}, base, {position: 'bottom',
      axisLabel: {show: true, color: '#000', fontFamily: FONT, fontWeight: 'bold', fontSize: 16, margin: 3,
        formatter: v => String(Math.round(v * 10) / 10)}}),
    Object.assign({}, base, {position: 'top', axisLabel: {show: false}})
  ];
}
function yAxesFor(gi, range) {
  const major = {
    gridIndex: gi, type: 'value', min: range[0], max: range[1], interval: yMajor, z: 20,
    axisLine: {show: true, onZero: false, lineStyle: {color: '#000', width: 2}},
    axisTick: {show: true, inside: true, length: 8, lineStyle: {color: '#000', width: 1.3}},
    minorTick: {show: false}, splitLine: {show: false}
  };
  const minor = {
    gridIndex: gi, type: 'value', min: range[0], max: range[1], interval: yMinor, z: 20,
    axisLine: {show: false, onZero: false}, axisLabel: {show: false},
    axisTick: {show: true, inside: true, length: 4, lineStyle: {color: '#000', width: 1.3}},
    splitLine: {show: false}
  };
  return [
    Object.assign({}, major, {position: 'left',
      axisLabel: {show: true, color: '#000', fontFamily: FONT, fontWeight: 'bold', fontSize: 16, margin: 11,
        showMaxLabel: range[1] % yMajor === 0, formatter: v => String(v)}}),
    Object.assign({}, major, {position: 'right', axisLabel: {show: false}}),
    Object.assign({}, minor, {position: 'left'}),
    Object.assign({}, minor, {position: 'right'})
  ];
}

const xAxes = xAxesFor(0).concat(xAxesFor(1));          // 0,1 left; 2,3 right
const yAxes = yAxesFor(0, leftYRange).concat(yAxesFor(1, rightYRange)); // 0..3 left; 4..7 right

function errorBarSeries(xs, ms, es, xi, yi) {
  return {
    type: 'custom', xAxisIndex: xi, yAxisIndex: yi, clip: true, z: 4, silent: true,
    data: xs.map((x, i) => [x, ms[i], es[i]]),
    renderItem: function (params, api) {
      const x = api.value(0), y = api.value(1), e = api.value(2);
      const c = api.coord([x, y]);
      const t = api.coord([x, y + e]);
      const b = api.coord([x, y - e]);
      const l = api.coord([x - binHalfWidth, y]);
      const r = api.coord([x + binHalfWidth, y]);
      const st = {stroke: '#000', lineWidth: 1.2};
      return {type: 'group', children: [
        {type: 'line', shape: {x1: c[0], y1: t[1], x2: c[0], y2: b[1]}, style: st},
        {type: 'line', shape: {x1: l[0], y1: c[1], x2: r[0], y2: c[1]}, style: st}
      ]};
    }
  };
}
function meanSeries(xs, ms, xi, yi) {
  return {
    type: 'scatter', xAxisIndex: xi, yAxisIndex: yi, z: 5, silent: true,
    symbol: 'circle', symbolSize: 15, itemStyle: {color: '#000', opacity: 1},
    data: xs.map((x, i) => [x, ms[i]])
  };
}
function eventSeries(d, xi, yi) {
  return {
    type: 'scatter', xAxisIndex: xi, yAxisIndex: yi, z: 3, silent: true,
    symbol: 'circle', symbolSize: 2.7, itemStyle: {color: '#000', opacity: 1}, data: d
  };
}

const txt = (x, y, text, size, align, extra) => Object.assign({
  type: 'text', x: x, y: y, z: 50, silent: true,
  style: {text: text, fill: '#000', font: 'bold ' + size + 'px ' + FONT, textAlign: align, textVerticalAlign: 'middle'}
}, extra || {});
const ln = (x1, y1, x2, y2) => ({type: 'line', z: 60, silent: true,
  shape: {x1: x1, y1: y1, x2: x2, y2: y2}, style: {stroke: '#000', lineWidth: 2.5}});
const box = (x, y, w, h) => ({type: 'rect', z: 10, silent: true,
  shape: {x: x, y: y, width: w, height: h}, style: {fill: '#fff', stroke: '#000', lineWidth: 1.5}});

const option = {
  animation: false,
  backgroundColor: '#fff',
  grid: grids,
  xAxis: xAxes,
  yAxis: yAxes,
  series: [
    eventSeries(leftEvents, 0, 0),
    errorBarSeries(leftBinX, leftMean, leftErr, 0, 0),
    meanSeries(leftBinX, leftMean, 0, 0),
    eventSeries(rightEvents, 2, 4),
    errorBarSeries(rightBinX, rightMean, rightErr, 2, 4),
    meanSeries(rightBinX, rightMean, 2, 4)
  ],
  graphic: [
    ln(8, 7, 1193, 7), ln(8, 7, 8, 889), ln(607, 7, 607, 889), ln(1193, 7, 1193, 889),
    txt(307, 79, leftTitle, 25, 'center'),
    txt(907, 79, rightTitle, 25, 'center'),
    txt(36, 110, yName, 21, 'center', {rotation: Math.PI / 2}),
    txt(631, 110, yName, 21, 'center', {rotation: Math.PI / 2}),
    box(280, 103, 282, 28), box(878, 103, 283, 28),
    txt(294, 118, statLabel, 20, 'left'), txt(548, 118, statValue, 20, 'right'),
    txt(893, 118, statLabel, 20, 'left'), txt(1147, 118, statValue, 20, 'right'),
    txt(562, 809, leftAxisName, 20, 'right'),
    txt(1161, 811, rightAxisName, 20, 'right')
  ]
};
chart.setOption(option);
</script>
</body>
</html>
